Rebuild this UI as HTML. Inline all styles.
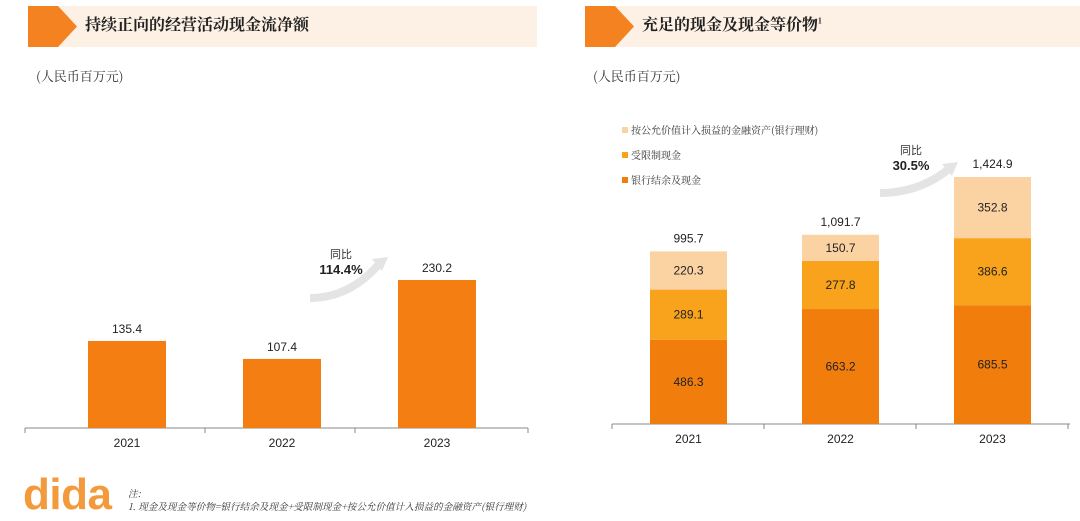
<!DOCTYPE html>
<html><head><meta charset="utf-8"><style>
body{margin:0;width:1080px;height:521px;background:#fff;overflow:hidden;font-family:"Liberation Sans","Noto Sans CJK SC",sans-serif;position:relative}
.hdr{position:absolute;top:6px;height:41px;background:#fdf0e4}
.ttl{position:absolute;top:12px;font-size:16px;font-weight:bold;color:#222;font-family:"Noto Serif CJK SC","Noto Sans CJK SC",serif}
.unit{position:absolute;top:66px;font-size:13px;color:#333;font-family:"Noto Serif CJK SC",serif}
</style></head><body>
<div class="hdr" style="left:28px;width:509px"></div>
<svg style="position:absolute;left:28px;top:6px" width="50" height="41"><polygon points="0,0 30,0 49,20.5 30,41 0,41" fill="#f58220"/></svg>
<div class="ttl" style="left:85px">持续正向的经营活动现金流净额</div>
<div class="hdr" style="left:585px;width:495px"></div>
<svg style="position:absolute;left:585px;top:6px" width="50" height="41"><polygon points="0,0 30,0 49,20.5 30,41 0,41" fill="#f58220"/></svg>
<div class="ttl" style="left:642px">充足的现金及现金等价物<sup style="font-size:8px">1</sup></div>
<div class="unit" style="left:36px">(人民币百万元)</div>
<div class="unit" style="left:593px">(人民币百万元)</div>
<svg id="c" width="1080" height="521" style="position:absolute;left:0;top:0"></svg>
<div style="position:absolute;left:23px;top:470px;font-size:44px;font-weight:bold;color:#f39a3c;letter-spacing:-0.5px">dida</div>
<div style="position:absolute;left:128px;top:487px;font-size:9.6px;font-style:italic;color:#333;line-height:13px;font-family:'Noto Serif CJK SC',serif">注:<br>1. 现金及现金等价物=银行结余及现金+受限制现金+按公允价值计入损益的金融资产(银行理财)</div>
<script>
const leftYears=["2021","2022","2023"];
const leftValues=[135.4,107.4,230.2];
const rightYears=["2021","2022","2023"];
const bankCash=[486.3,663.2,685.5];
const restricted=[289.1,277.8,386.6];
const wealth=[220.3,150.7,352.8];
const totalLabels=["995.7","1,091.7","1,424.9"];
const legendLabels=["按公允价值计入损益的金融资产(银行理财)","受限制现金","银行结余及现金"];
const NS="http://www.w3.org/2000/svg",svg=document.getElementById('c');
function mk(t,a,txt){const e=document.createElementNS(NS,t);for(const k in a)e.setAttribute(k,a[k]);if(txt!==undefined)e.textContent=txt;svg.appendChild(e);return e;}
const lBase=428,lScale=148/230.2,lX=i=>88+i*155,bw=78;
const la=mk('line',{x1:25,x2:528,y1:lBase,y2:lBase,stroke:'#888'});

[25,205,355,528].forEach(x=>mk('line',{x1:x,x2:x,y1:lBase,y2:lBase+5,stroke:'#888'}));
leftValues.forEach((v,i)=>{const h=v*lScale;
const r=mk('rect',{x:lX(i),y:lBase-h,width:bw,height:h,fill:'#f57e12'});

const t=mk('text',{x:lX(i)+bw/2,y:lBase-h-8,'text-anchor':'middle','font-size':12,fill:'#222'},v.toFixed(1));

const y=mk('text',{x:lX(i)+bw/2,y:lBase+19,'text-anchor':'middle','font-size':12,fill:'#222'},leftYears[i]);
});
const rBase=424,rScale=247/1424.9,rX=i=>650+i*152,rw=77;
const ra=mk('line',{x1:612,x2:1070,y1:rBase,y2:rBase,stroke:'#888'});

[612,764,916,1068].forEach(x=>mk('line',{x1:x,x2:x,y1:rBase,y2:rBase+5,stroke:'#888'}));
const series=[bankCash,restricted,wealth],cols=['#f07d0c','#f8a31b','#fbd3a2'],sn=['bank-cash','restricted-cash','wealth-mgmt'];
rightYears.forEach((yr,i)=>{let y0=rBase;
series.forEach((s,k)=>{const h=s[i]*rScale;
const r=mk('rect',{x:rX(i),y:y0-h,width:rw,height:h,fill:cols[k]});

const t=mk('text',{x:rX(i)+rw/2,y:y0-h/2+4,'text-anchor':'middle','font-size':12,fill:'#222'},s[i].toFixed(1));

y0-=h;});
const t=mk('text',{x:rX(i)+rw/2,y:y0-9,'text-anchor':'middle','font-size':12,fill:'#222'},totalLabels[i]);

const yl=mk('text',{x:rX(i)+rw/2,y:rBase+19,'text-anchor':'middle','font-size':12,fill:'#222'},yr);
});
legendLabels.forEach((l,k)=>{const c=[cols[2],cols[1],cols[0]][k],y=134+k*25;
const r=mk('rect',{x:622,y:y-7,width:6,height:6,fill:c});

const t=mk('text',{x:631,y:y,'font-size':10,fill:'#333','font-family':'Noto Serif CJK SC,serif'},l);
});
function growth(x,y,pct,ax1,ay1,ax2,ay2){
const p=mk('path',{d:`M${ax1},${ay1} Q${(ax1+ax2)/2+5},${ay1} ${ax2},${ay2}`,stroke:'#e4e4e4','stroke-width':8,fill:'none'});

const h=mk('polygon',{points:`${ax2+8},${ay2-6} ${ax2-8},${ay2-4} ${ax2+2},${ay2+8}`,fill:'#e4e4e4'});

const a=mk('text',{x:x,y:y,'text-anchor':'middle','font-size':11,fill:'#333'},'同比');

const b=mk('text',{x:x,y:y+16,'text-anchor':'middle','font-size':13,'font-weight':'bold',fill:'#222'},pct);
}
growth(341,258,'114.4%',310,298,380,263);
growth(911,154,'30.5%',880,193,950,168);
</script>
</body></html>
